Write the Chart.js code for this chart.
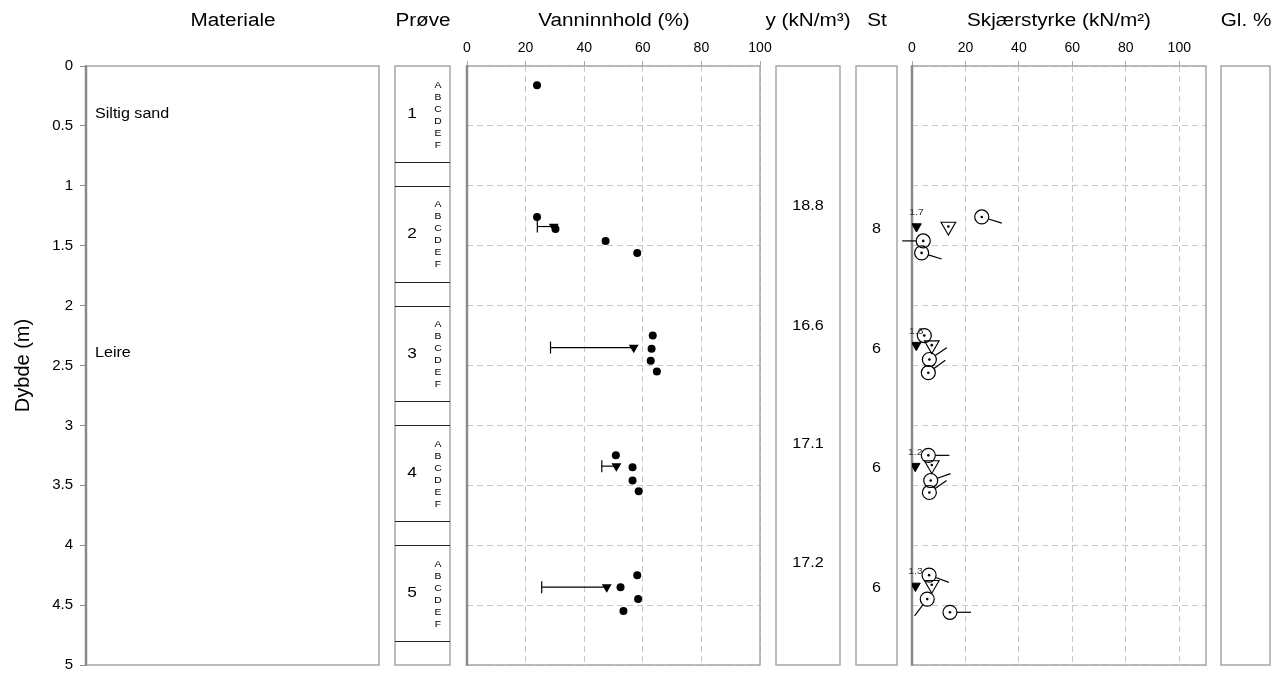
<!DOCTYPE html>
<html lang="no">
<head>
<meta charset="utf-8">
<title>Borhullslogg</title>
<script src="https://cdn.jsdelivr.net/npm/chart.js@4.4.1/dist/chart.umd.min.js"></script>
<style>
  html, body { margin: 0; padding: 0; background: #fff; }
  #log { position: relative; width: 1287px; height: 675px; overflow: hidden; }
  #log canvas { position: absolute; top: 0; }
  .head {
    position: absolute; top: 20px; color: #000; white-space: nowrap;
    font: 18px "Liberation Sans", Arial, sans-serif;
    transform: translate(-50%, -50%) scaleX(1.15);
  }
</style>
</head>
<body>
<div id="log"></div>
<script>
// axis ticks
const depthTicks = [0, 0.5, 1, 1.5, 2, 2.5, 3, 3.5, 4, 4.5, 5];
const waterTicks = [0, 20, 40, 60, 80, 100];
const shearTicks = [0, 20, 40, 60, 80, 100];

// materiale
const materialNames = ["Siltig sand", "Leire"];
const materialDepths = [0.4, 2.4];

// prøver
const sampleNumbers = ["1", "2", "3", "4", "5"];
const sampleTops = [0, 1, 2, 3, 4];
const sampleBottoms = [0.8, 1.8, 2.8, 3.8, 4.8];
const sampleLetters = ["A", "B", "C", "D", "E", "F"];

// vanninnhold (%)
const waterDepths = [0.16, 1.26, 1.36, 1.46, 1.56, 2.25, 2.36, 2.46, 2.55, 3.25, 3.35, 3.46, 3.55, 4.25, 4.35, 4.45, 4.55];
const waterContent = [23.9, 23.9, 30.2, 47.3, 58.1, 63.4, 63.0, 62.7, 64.8, 50.8, 56.5, 56.5, 58.6, 58.1, 52.4, 58.4, 53.4];

// plastisitetsgrense / flytegrense
const limitDepths = [1.34, 2.35, 3.34, 4.35];
const plasticLimit = [24, 28.5, 46, 25.5];
const liquidLimit = [29.6, 56.9, 51, 47.7];

// tyngdetetthet
const densityDepths = [1.17, 2.17, 3.16, 4.15];
const densityValues = ["18.8", "16.6", "17.1", "17.2"];

// sensitivitet
const stDepths = [1.36, 2.36, 3.36, 4.36];
const stValues = ["8", "6", "6", "6"];

// skjærstyrke
const remouldedDepths = [1.34, 2.33, 3.34, 4.34];
const remouldedShear = [1.7, 1.6, 1.2, 1.3];
const coneDepths = [1.34, 2.33, 3.33, 4.33];
const coneShear = [13.6, 7.4, 7.4, 7.4];
const uniaxialDepths = [1.26, 1.46, 1.56, 2.25, 2.45, 2.56, 3.25, 3.46, 3.56, 4.25, 4.45, 4.56];
const uniaxialShear = [26.1, 4.2, 3.6, 4.6, 6.5, 6.1, 6.1, 7.0, 6.5, 6.4, 5.7, 14.2];
const uniaxialTail = [-17, 180, -17, null, 34, 36, 0, 19, 35, -20, -127, 0]; // deg

const CHART_TOP = 66, CHART_BOTTOM = 665, PAGE_H = 675, AXIS_H = 30;
const FONT = "'Liberation Sans', Arial, Helvetica, sans-serif";
const GRID = "#c8c8c8", FRAME = "#a6a6a6", AXIS = "#8a8a8a";
const STRETCH = 1.15;

Chart.defaults.font.family = FONT;
Chart.defaults.font.size = 14;
Chart.defaults.color = "#000";
Chart.defaults.animation = false;

function addCanvas(left, width) {
  const c = document.createElement("canvas");
  c.width = width;
  c.height = PAGE_H;
  c.style.left = left + "px";
  c.style.width = width + "px";
  c.style.height = PAGE_H + "px";
  document.getElementById("log").appendChild(c);
  return c;
}

function drawText(ctx, text, x, y, size, align, color) {
  ctx.save();
  ctx.font = size + "px " + FONT;
  ctx.fillStyle = color || "#000";
  ctx.textAlign = align || "center";
  ctx.textBaseline = "middle";
  ctx.translate(x, y);
  ctx.scale(STRETCH, 1);
  ctx.fillText(text, 0, 0);
  ctx.restore();
}

function drawFrame(chart, strongLeft) {
  const { ctx, chartArea: a } = chart;
  ctx.save();
  ctx.strokeStyle = FRAME;
  ctx.lineWidth = 1.5;
  ctx.strokeRect(a.left, a.top, a.right - a.left, a.bottom - a.top);
  if (strongLeft) {
    ctx.strokeStyle = AXIS;
    ctx.lineWidth = 2.5;
    ctx.beginPath();
    ctx.moveTo(a.left, a.top - 0.75);
    ctx.lineTo(a.left, a.bottom + 0.75);
    ctx.stroke();
  }
  ctx.restore();
}

function depthScale(withGrid) {
  return {
    type: "linear", reverse: true, min: 0, max: 5,
    afterBuildTicks: s => { s.ticks = depthTicks.map(v => ({ value: v })); },
    afterFit: s => { s.width = 0; },
    ticks: { display: false },
    grid: { display: withGrid, color: GRID, drawTicks: false },
    border: { display: false, dash: [6, 4] }
  };
}

function topScale(max, ticks) {
  return {
    type: "linear", position: "top", min: 0, max: max,
    afterBuildTicks: s => { s.ticks = ticks.map(v => ({ value: v })); },
    afterFit: s => { s.height = AXIS_H; },
    ticks: { padding: 4, maxRotation: 0, autoSkip: false },
    grid: { color: GRID, tickColor: FRAME, tickLength: 5, tickBorderDash: [] },
    border: { display: false, dash: [6, 4] }
  };
}

function column(left, right, opts) {
  const axisW = opts.axisWidth || 0;
  const canvasLeft = axisW ? left - axisW : left - 20;
  const canvas = addCanvas(canvasLeft, right + 20 - canvasLeft);
  return new Chart(canvas, {
    type: "scatter",
    data: { datasets: opts.datasets || [{ data: [] }] },
    options: {
      responsive: false,
      devicePixelRatio: 1,
      layout: {
        padding: {
          top: opts.x ? CHART_TOP - AXIS_H : CHART_TOP,
          bottom: PAGE_H - CHART_BOTTOM,
          left: axisW ? 0 : 20,
          right: 20
        }
      },
      scales: {
        x: opts.x || { type: "linear", min: 0, max: 1, display: false },
        y: opts.y || depthScale(false)
      },
      plugins: { legend: { display: false }, tooltip: { enabled: false } }
    },
    plugins: [{
      id: "logColumn",
      beforeDatasetsDraw(chart) { drawFrame(chart, opts.strongLeft); },
      afterDatasetsDraw(chart) { if (opts.draw) opts.draw(chart); }
    }]
  });
}

function addHeader(text, left, right) {
  const d = document.createElement("div");
  d.className = "head";
  d.textContent = text;
  d.style.left = (left + right) / 2 + "px";
  document.getElementById("log").appendChild(d);
}

// Materiale
column(86, 379, {
  axisWidth: 86,
  strongLeft: true,
  y: {
    type: "linear", reverse: true, min: 0, max: 5, position: "left",
    afterBuildTicks: s => { s.ticks = depthTicks.map(v => ({ value: v })); },
    afterFit: s => { s.width = 86; s.paddingTop = 0; s.paddingBottom = 0; },
    ticks: { padding: 7, font: { size: 15 }, callback: v => String(v) },
    grid: { drawOnChartArea: false, color: AXIS, tickLength: 6 },
    border: { display: false },
    title: { display: true, text: "Dybde (m)", font: { size: 20 }, padding: { top: 11, bottom: 0 } }
  },
  draw(chart) {
    const { ctx, chartArea: a, scales: { y } } = chart;
    materialNames.forEach((name, i) => {
      drawText(ctx, name, a.left + 9, y.getPixelForValue(materialDepths[i]), 14, "left");
    });
  }
});
addHeader("Materiale", 86, 379);

// Prøve
column(395, 450, {
  draw(chart) {
    const { ctx, chartArea: a, scales: { y } } = chart;
    ctx.save();
    ctx.strokeStyle = "#222";
    ctx.lineWidth = 1;
    sampleTops.forEach((top, i) => {
      [top, sampleBottoms[i]].forEach(d => {
        if (d <= 0) return;
        const py = Math.round(y.getPixelForValue(d)) + 0.5;
        ctx.beginPath();
        ctx.moveTo(a.left, py);
        ctx.lineTo(a.right, py);
        ctx.stroke();
      });
      drawText(ctx, sampleNumbers[i], a.left + 17, y.getPixelForValue((top + sampleBottoms[i]) / 2), 15);
      sampleLetters.forEach((letter, k) => {
        drawText(ctx, letter, a.left + 43, y.getPixelForValue(top + 0.16 + k * 0.1), 9);
      });
    });
    ctx.restore();
  }
});
addHeader("Prøve", 395, 450);

// Vanninnhold
const limitSets = limitDepths.map((d, i) => ({
  data: [{ x: plasticLimit[i], y: d }, { x: liquidLimit[i], y: d }],
  showLine: true,
  borderColor: "#000",
  borderWidth: 1.2,
  pointStyle: ["line", "triangle"],
  pointRotation: [90, 180],
  pointRadius: [6, 4.5],
  pointBackgroundColor: "#000",
  pointBorderColor: "#000",
  pointBorderWidth: 1.2
}));
column(467, 760, {
  strongLeft: true,
  x: topScale(100, waterTicks),
  y: depthScale(true),
  datasets: [{
    data: waterDepths.map((d, i) => ({ x: waterContent[i], y: d })),
    pointRadius: 4,
    pointBackgroundColor: "#000",
    pointBorderWidth: 0
  }].concat(limitSets)
});
addHeader("Vanninnhold (%)", 467, 760);

// Tyngdetetthet
column(776, 840, {
  draw(chart) {
    const { ctx, chartArea: a, scales: { y } } = chart;
    densityValues.forEach((v, i) => drawText(ctx, v, (a.left + a.right) / 2, y.getPixelForValue(densityDepths[i]), 14));
  }
});
addHeader("y (kN/m³)", 776, 840);

// Sensitivitet
column(856, 897, {
  draw(chart) {
    const { ctx, chartArea: a, scales: { y } } = chart;
    stValues.forEach((v, i) => drawText(ctx, v, (a.left + a.right) / 2, y.getPixelForValue(stDepths[i]), 14));
  }
});
addHeader("St", 856, 897);

// Skjærstyrke
column(912, 1206, {
  strongLeft: true,
  x: topScale(110, shearTicks),
  y: depthScale(true),
  datasets: [
    {
      data: remouldedShear.map((v, i) => ({ x: v, y: remouldedDepths[i] })),
      pointStyle: "triangle", rotation: 180, pointRadius: 5.5,
      pointBackgroundColor: "#000", pointBorderColor: "#000", pointBorderWidth: 1
    },
    {
      data: coneShear.map((v, i) => ({ x: v, y: coneDepths[i] })),
      pointStyle: "triangle", rotation: 180, pointRadius: 8.5,
      pointBackgroundColor: "rgba(0,0,0,0)", pointBorderColor: "#000", pointBorderWidth: 1.1
    },
    {
      data: uniaxialShear.map((v, i) => ({ x: v, y: uniaxialDepths[i] })),
      pointStyle: "circle", pointRadius: 7,
      pointBackgroundColor: "rgba(0,0,0,0)", pointBorderColor: "#000", pointBorderWidth: 1.2
    },
    {
      data: coneShear.map((v, i) => ({ x: v, y: coneDepths[i] }))
        .concat(uniaxialShear.map((v, i) => ({ x: v, y: uniaxialDepths[i] }))),
      pointRadius: 1.3, pointBackgroundColor: "#000", pointBorderWidth: 0
    }
  ],
  draw(chart) {
    const { ctx, scales: { x, y } } = chart;
    ctx.save();
    ctx.strokeStyle = "#000";
    ctx.lineWidth = 1.2;
    uniaxialTail.forEach((deg, i) => {
      if (deg === null) return;
      const cx = x.getPixelForValue(uniaxialShear[i]);
      const cy = y.getPixelForValue(uniaxialDepths[i]);
      const a = deg * Math.PI / 180;
      ctx.beginPath();
      ctx.moveTo(cx + 7 * Math.cos(a), cy - 7 * Math.sin(a));
      ctx.lineTo(cx + 21 * Math.cos(a), cy - 21 * Math.sin(a));
      ctx.stroke();
    });
    ctx.restore();
    remouldedShear.forEach((v, i) => {
      drawText(ctx, v.toFixed(1), x.getPixelForValue(v), y.getPixelForValue(remouldedDepths[i]) - 14, 9, "center", "#333");
    });
  }
});
addHeader("Skjærstyrke (kN/m²)", 912, 1206);

// Glødetap
column(1221, 1270, {});
addHeader("Gl. %", 1221, 1270);
</script>
</body>
</html>
